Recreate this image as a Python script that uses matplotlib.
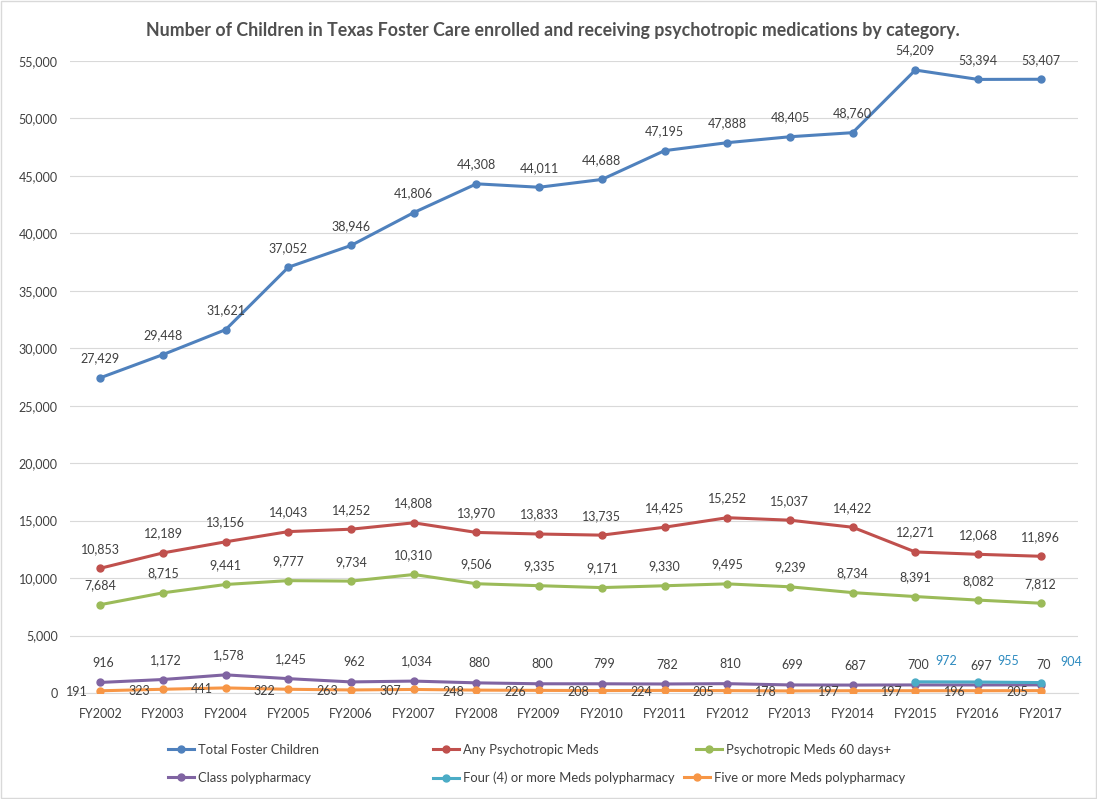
import matplotlib.pyplot as plt
from matplotlib.ticker import FuncFormatter

plt.rcParams['font.family'] = ['Lato', 'DejaVu Sans']

years = ['FY2002', 'FY2003', 'FY2004', 'FY2005', 'FY2006', 'FY2007', 'FY2008', 'FY2009',
         'FY2010', 'FY2011', 'FY2012', 'FY2013', 'FY2014', 'FY2015', 'FY2016', 'FY2017']

total = [27429, 29448, 31621, 37052, 38946, 41806, 44308, 44011,
         44688, 47195, 47888, 48405, 48760, 54209, 53394, 53407]
any_meds = [10853, 12189, 13156, 14043, 14252, 14808, 13970, 13833,
            13735, 14425, 15252, 15037, 14422, 12271, 12068, 11896]
meds_60 = [7684, 8715, 9441, 9777, 9734, 10310, 9506, 9335,
           9171, 9330, 9495, 9239, 8734, 8391, 8082, 7812]
class_poly = [916, 1172, 1578, 1245, 962, 1034, 880, 800,
              799, 782, 810, 699, 687, 700, 697, 704]
four_years = ['FY2015', 'FY2016', 'FY2017']
four_meds = [972, 955, 904]
five_meds = [191, 323, 441, 322, 263, 307, 248, 226,
             208, 224, 205, 178, 197, 197, 196, 205]

label_color = '#404040'
W, H = 1097, 799

fig = plt.figure(figsize=(W / 100, H / 100), dpi=100)
ax = fig.add_axes([0.064, 0.1327, 0.919, 0.791])

x = list(range(len(years)))
x4 = [years.index(y) for y in four_years]

series = [
    ('Total Foster Children', x, total, '#4F81BD'),
    ('Any Psychotropic Meds', x, any_meds, '#C0504D'),
    ('Psychotropic Meds 60 days+', x, meds_60, '#9BBB59'),
    ('Class polypharmacy', x, class_poly, '#8064A2'),
    ('Four (4) or more Meds polypharmacy', x4, four_meds, '#4BACC6'),
    ('Five or more Meds polypharmacy', x, five_meds, '#F79646'),
]
handles = []
for name, xs, ys, c in series:
    h, = ax.plot(xs, ys, color=c, lw=2.2, marker='o', ms=5, label=name, zorder=3)
    handles.append(h)

# data labels
def labels(xs, ys, dx, dy, color=label_color):
    for xi, yi in zip(xs, ys):
        txt = '70' if (ys is class_poly and xi == len(years) - 1) else f'{yi:,}'
        ax.annotate(txt, (xi, yi), xytext=(dx, dy), textcoords='offset points',
                    ha='center', va='center', fontsize=9, color=color, zorder=5)

labels(x, total, 0, 14)
labels(x, any_meds, 0, 14)
labels(x, meds_60, 0, 14)
labels(x, class_poly, 2, 14)
labels(x4, four_meds, 22, 15, color='#2E8BC0')
labels(x, five_meds, -17, -1)

ax.set_xlim(-0.48, len(years) - 0.4)
ax.set_ylim(0, 55000)
ax.set_yticks(range(0, 55001, 5000))
ax.yaxis.set_major_formatter(FuncFormatter(lambda v, p: f'{int(v):,}'))
ax.set_xticks(x)
ax.set_xticklabels(years)
ax.tick_params(length=0, labelsize=9, colors=label_color)
ax.tick_params(axis='x', pad=11)
ax.tick_params(axis='y', pad=9)
ax.grid(axis='y', color='#D9D9D9', lw=0.8)
ax.set_axisbelow(True)
for s in ['top', 'right', 'left']:
    ax.spines[s].set_visible(False)
ax.spines['bottom'].set_color('#D9D9D9')

fig.suptitle('Number of Children in Texas Foster Care enrolled and receiving psychotropic medications by category.',
             x=0.504, y=0.962, va='center', fontsize=12.8, fontweight='bold', color='#505050')

# legend entries placed like the original (two rows, three columns)
legend_pos = [(168, 750), (433, 750), (696, 750), (168, 778), (433, 778), (684, 778)]
for h, (px, py) in zip(handles, legend_pos):
    fig.legend(handles=[h], loc='center left', bbox_to_anchor=(px / W, 1 - py / H),
               frameon=False, fontsize=9.4, handlelength=2.0, handletextpad=0.3,
               borderpad=0, borderaxespad=0, labelcolor=label_color)

fig.patches.append(plt.Rectangle((0.001, 0.001), 0.998, 0.998, transform=fig.transFigure,
                                 fill=False, edgecolor='#D9D9D9', lw=1))

fig.savefig('out.png', dpi=100)
